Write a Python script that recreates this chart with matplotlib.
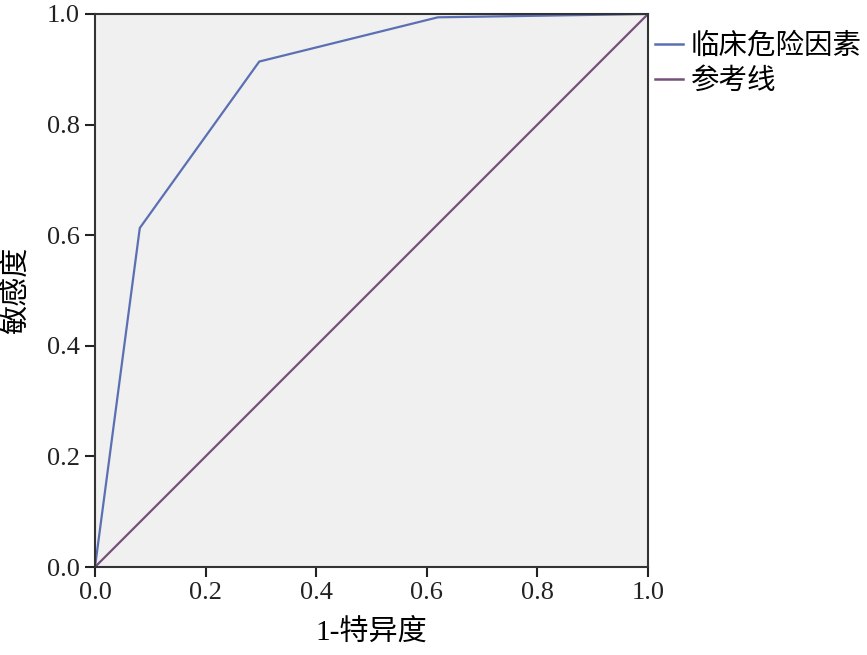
import matplotlib
matplotlib.use("Agg")
import matplotlib.pyplot as plt

fpr = [0.0, 0.081, 0.297, 0.62, 1.0]
tpr = [0.0, 0.613, 0.914, 0.994, 1.0]
ref_x = [0.0, 1.0]
ref_y = [0.0, 1.0]
ticks = [0.0, 0.2, 0.4, 0.6, 0.8, 1.0]
tick_labels = ["0.0", "0.2", "0.4", "0.6", "0.8", "1.0"]
series_names = ["临床危险因素", "参考线"]

fam = ["Liberation Serif", "Noto Sans CJK SC"]
plt.rcParams['font.family'] = fam

fig = plt.figure(figsize=(8.67, 6.55), dpi=100)
ax = fig.add_axes([95/867, 88/655, 553/867, 553/655])
ax.set_facecolor("#f0f0f0")
ax.plot(fpr, tpr, color="#5b6fb3", lw=1.6, label=series_names[0], solid_joinstyle="miter")
ax.plot(ref_x, ref_y, color="#76507a", lw=1.6, label=series_names[1])
ax.set_xlim(0, 1)
ax.set_ylim(0, 1)
ax.set_xticks(ticks)
ax.set_xticklabels(tick_labels)
ax.set_yticks(ticks)
ax.set_yticklabels(tick_labels)
ax.tick_params(direction="out", length=7, width=1.5, labelsize=19, colors="#222222", pad=4)
for s in ax.spines.values():
    s.set_linewidth(1.5)
    s.set_color("#333333")
ax.set_xlabel("1-特异度", fontsize=21, labelpad=10)
ax.set_ylabel("敏感度", fontsize=21, labelpad=12)
leg = fig.legend(*ax.get_legend_handles_labels(), loc="upper left",
                 bbox_to_anchor=(655/867, 1 - 33/655), bbox_transform=fig.transFigure,
                 frameon=False, fontsize=20.5, handlelength=1.0, handletextpad=0.25,
                 labelspacing=0.3, borderaxespad=0, borderpad=0)
for line in leg.get_lines():
    line.set_linewidth(1.8)
fig.savefig("out.png", dpi=100)
